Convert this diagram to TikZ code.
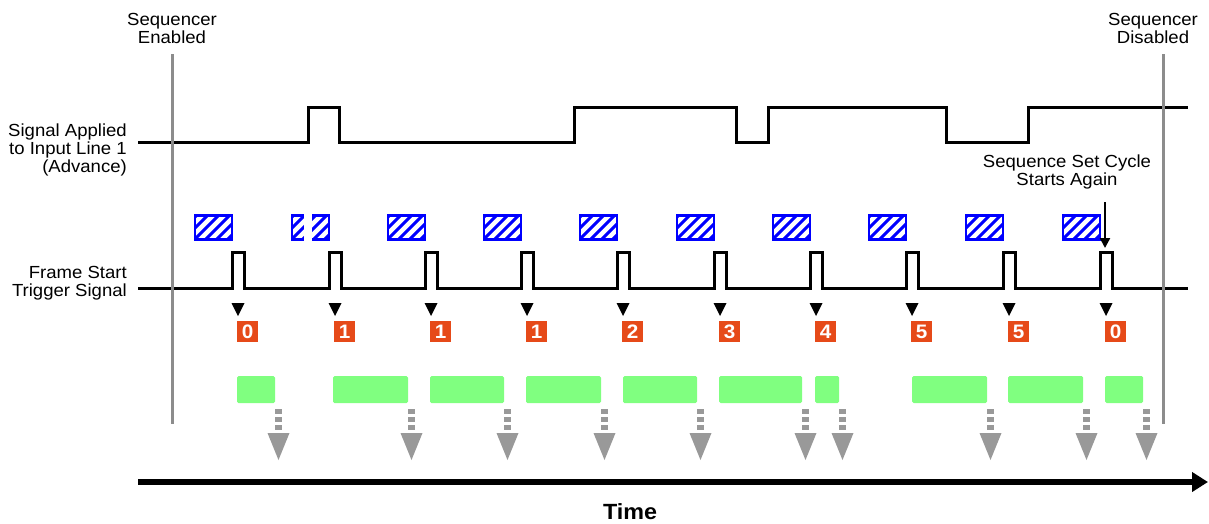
\documentclass[tikz,border=0pt]{standalone}
\usepackage{fontspec}
\setmainfont[FakeStretch=1.06]{Liberation Sans}
\usetikzlibrary{arrows.meta,calc}
\definecolor{seqgray}{RGB}{140,140,140}
\definecolor{arrgray}{RGB}{153,153,153}
\definecolor{numorange}{RGB}{230,74,25}
\definecolor{framegreen}{RGB}{128,255,128}
\definecolor{hatchblue}{RGB}{0,0,255}
\tikzset{
  lbl/.style={font=\fontsize{17.5}{18}\selectfont, inner sep=0pt},
  wave/.style={line width=3pt, black, line join=miter},
  seqline/.style={line width=3pt, seqgray},
  numbox/.style={fill=numorange, text=white, font=\fontsize{19.5}{19.5}\selectfont\bfseries, minimum width=21pt, minimum height=21pt, inner sep=0pt},
  framebox/.style={fill=framegreen, rounded corners=1.5pt, minimum height=27pt, inner sep=0pt},
  hatchbox/.style={draw=hatchblue, line width=2.5pt, minimum width=37pt, minimum height=24pt, inner sep=0pt},
  hatchline/.style={hatchblue, line width=3pt},
  trimark/.style={fill=black},
  outarrow/.style={arrgray, line width=7pt, dash pattern=on 5pt off 3pt},
}
\begin{document}
\begin{tikzpicture}[x=1pt,y=-1pt]
\useasboundingbox (0,0) rectangle (1209,523);

% labels
\node[lbl, align=center] (seqen) at (172,28) {Sequencer\\Enabled};
\node[lbl, align=center] (seqdis) at (1153,28) {Sequencer\\Disabled};
\node[lbl, align=right, anchor=east] (sigin) at (127,150) {Signal Applied\\to Input Line 1\\(Advance)};
\node[lbl, align=right, anchor=east] (fstrig) at (127,283) {Frame Start\\Trigger Signal};
\node[lbl, align=center] (cycle) at (1067,172) {Sequence Set Cycle\\Starts Again};

% input line signal
\draw[wave] (138,142) -- (308,142) -- (308,107) -- (339,107) -- (339,142)
  -- (574,142) -- (574,107) -- (736,107) -- (736,142) -- (768,142) -- (768,107)
  -- (946,107) -- (946,142) -- (1028,142) -- (1028,107) -- (1188,107);

% frame start trigger signal
\draw[wave] (138,288)
  \foreach \p in {232,329,425,521,617,714,810,906,1003,1100}{
    -- (\p,288) -- (\p,252) -- ({\p+12},252) -- ({\p+12},288)}
  -- (1188,288);

% hatched exposure boxes
\foreach \p [count=\i] in {232,329,425,521,617,714,810,906,1003,1100}{
  \begin{scope}
    \clip ({\p-37},215.5) rectangle (\p,239.5);
    \foreach \k in {2,13,...,68}{
      \draw[hatchline] ({\p-37-27+\k},242) -- ++(29,-29);
    }
  \end{scope}
  \node[hatchbox] (h\i) at ({\p-18.5},227.5) {};
}
\fill[white] (304,212) rectangle (312,243);

% trigger marks and numbers
\foreach \p/\l [count=\i] in {232/0,329/1,425/1,521/1,617/2,714/3,810/4,906/5,1003/5,1100/0}{
  \fill[trimark] ({\p-0.5},303) -- ({\p+12.5},303) -- ({\p+6},316) -- cycle;
  \node[numbox] (n\i) at ({\p+15.5},331.5) {\l};
}

% cycle arrow
\coordinate (cyc1) at (1105,202);
\coordinate (cyc2) at (1105,248);
\draw[line width=2.2pt, -{Triangle[length=10pt,width=10pt]}] (cyc1) -- (cyc2);

% frame readout boxes and output arrows
\foreach \a/\b [count=\i] in {237/275,333/408,430/504,526/601,623/697,719/802,815/839,912/987,1008/1083,1105/1143}{
  \node[framebox, minimum width={(\b-\a)*1pt}] (g\i) at ({(\a+\b)/2},389.5) {};
  \coordinate (o\i) at ({\b+3.5},409);
  \draw[outarrow] (o\i) -- ++(0,22);
  \fill[arrgray] ($(o\i)+(-11,24)$) -- ($(o\i)+(11,24)$) -- ($(o\i)+(0,51)$) -- cycle;
}

% sequencer enable/disable lines
\coordinate (en1) at (172,54);
\coordinate (en2) at (172,424);
\coordinate (dis1) at (1163,54);
\coordinate (dis2) at (1163,424);
\draw[seqline] (en1) -- (en2);
\draw[seqline] (dis1) -- (dis2);

% time axis
\coordinate (t1) at (138,482);
\coordinate (t2) at (1208,482);
\draw[line width=6.5pt, -{Triangle[length=16pt,width=19pt]}] (t1) -- (t2);
\node[font=\fontsize{22}{22}\selectfont\bfseries, inner sep=0pt] (time) at (630,512) {Time};
\end{tikzpicture}
\end{document}
